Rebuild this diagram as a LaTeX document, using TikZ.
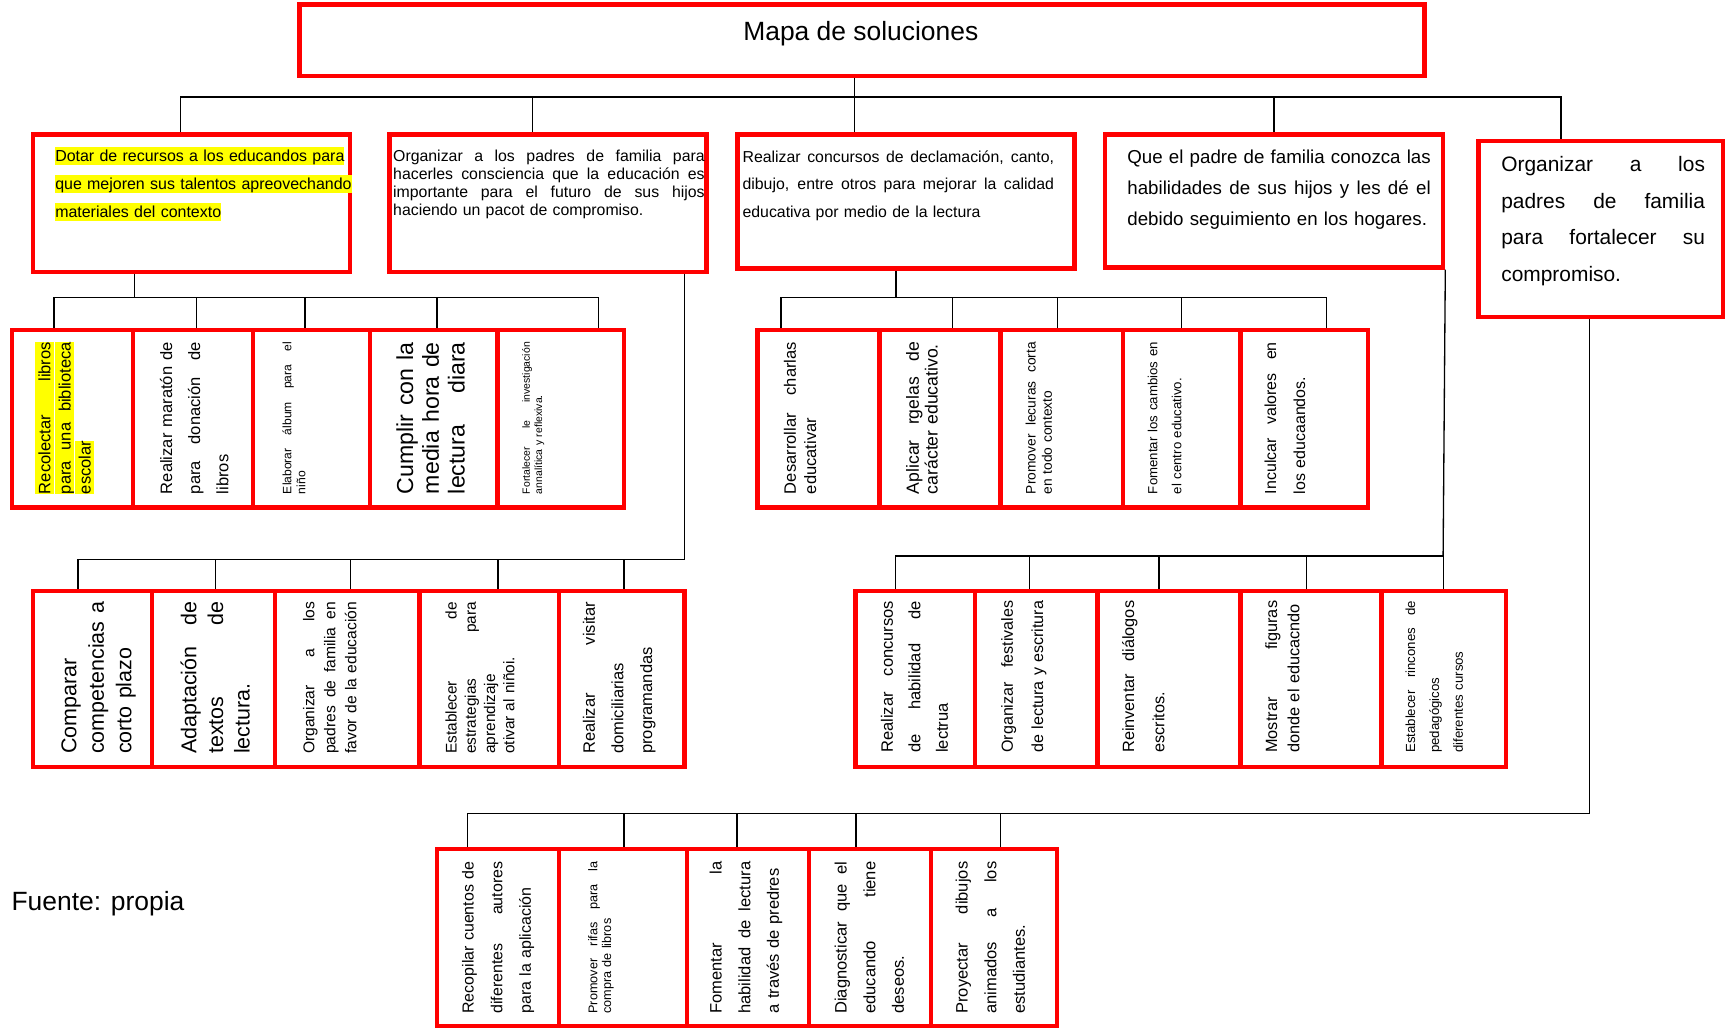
\documentclass[tikz,border=0pt]{standalone}
\usepackage{fontspec}
\setmainfont{Liberation Sans}
\usepackage{tikz}
\definecolor{boxred}{RGB}{255,0,0}
\definecolor{hlyellow}{RGB}{255,255,0}
\newcommand{\jline}[1]{\makebox[\linewidth][s]{\spaceskip=0pt\relax #1}}
\newcommand{\hlbox}[1]{{\setlength{\fboxsep}{0pt}\colorbox{hlyellow}{\rule[-0.22em]{0pt}{1.15em}#1}}}
\hyphenpenalty=10000

\begin{document}
\begin{tikzpicture}[x=1pt,y=-1pt,
	goal/.style={draw=boxred,line width=4pt,inner sep=0pt},
	link/.style={line width=1.2pt},
	htext/.style={anchor=base west,inner sep=0pt},
	vtext/.style={rotate=90,anchor=base west,inner sep=0pt,text width=138pt}]
	\useasboundingbox (0,0) rectangle (1568,935);

	\node[goal,minimum width=1022,minimum height=65] (title) at (783,36.5) {};
	\node[goal,minimum width=288,minimum height=125] (a1) at (174,184.5) {};
	\node[goal,minimum width=288,minimum height=125] (a2) at (498,184.5) {};
	\node[goal,minimum width=306,minimum height=122] (a3) at (823,183) {};
	\node[goal,minimum width=307,minimum height=121] (a4) at (1157.5,182.5) {};
	\node[goal,minimum width=222,minimum height=160] (a5) at (1454,208) {};

	\foreach \n/\x/\w in {c1/66/110,c2/175.5/109,c3/283/106,c4/394/116,c5/509.5/115,d1/743.5/111,d2/854/110,d3/964.5/111,d4/1073.5/107,d5/1185/116} \node[goal,minimum width=\w,minimum height=161] (\n) at (\x,380.5) {};
	\foreach \n/\x/\w in {e1/84/108,e2/194/112,e3/315.5/131,e4/444.5/127,e5/565/114,f1/831.5/109,f2/941.5/111,f3/1062/130,f4/1191/128,f5/1311.5/113} \node[goal,minimum width=\w,minimum height=160] (\n) at (\x,617) {};
	\foreach \n/\x/\w in {g1/452.5/111,g2/566/116,g3/679.5/111,g4/790.5/111,g5/903/114} \node[goal,minimum width=\w,minimum height=161] (\n) at (\x,851.5) {};

	\node[anchor=base,font=\fontsize{24}{29}\selectfont] (titletext) at (782,37) {Mapa de soluciones};
	\node[htext,text width=270pt,font=\fontsize{14.5}{25.3}\selectfont] (a1t) at (50,147) {\hlbox{Dotar de recursos a los educandos para}\\\hlbox{que mejoren sus talentos apreovechando}\\\hlbox{materiales del contexto}};
	\node[htext,text width=283pt,font=\fontsize{14.4}{16.2}\selectfont] (a2t) at (357,146.8) {\jline{Organizar a los padres de familia para}\\\jline{hacerles consciencia que la educación es}\\\jline{importante para el futuro de sus hijos}\\haciendo un pacot de compromiso.};
	\node[htext,text width=283pt,font=\fontsize{14.4}{24.8}\selectfont] (a3t) at (674.4,147.8) {\jline{Realizar concursos de declamación, canto,}\\\jline{dibujo, entre otros para mejorar la calidad}\\educativa por medio de la lectura};
	\node[htext,text width=275.6pt,font=\fontsize{17}{28}\selectfont] (a4t) at (1024,148.4) {\jline{Que el padre de familia conozca las}\\\jline{habilidades de sus hijos y les dé el}\\debido seguimiento en los hogares.};
	\node[htext,text width=185pt,font=\fontsize{19}{33.3}\selectfont] (a5t) at (1363.7,155.9) {\jline{Organizar a los}\\\jline{padres de familia}\\\jline{para fortalecer su}\\compromiso.};

	\node[vtext,font=\fontsize{15}{17}\selectfont] (c1t) at (45.8,449) {\hlbox{\jline{Recolectar libros}}\\\hlbox{\jline{para una biblioteca}}\\\hlbox{escolar}};
	\node[vtext,font=\fontsize{15}{25.5}\selectfont] (c2t) at (156.4,449) {\jline{Realizar maratón de}\\\jline{para donación de}\\libros};
	\node[vtext,font=\fontsize{11}{12.8}\selectfont] (c3t) at (264.6,449) {\jline{Elaborar álbum para el}\\niño};
	\node[vtext,font=\fontsize{21}{23.5}\selectfont] (c4t) at (375.2,449) {\jline{Cumplir con la}\\\jline{media hora de}\\\jline{lectura diara}};
	\node[vtext,font=\fontsize{9.5}{11}\selectfont] (c5t) at (481.4,449) {\jline{Fortalecer le investigación}\\annalítica y reflexiva.};

	\node[vtext,font=\fontsize{15}{18.5}\selectfont] (d1t) at (723,449) {\jline{Desarrollar charlas}\\educativar};
	\node[vtext,font=\fontsize{16}{17}\selectfont] (d2t) at (834.8,449) {\jline{Aplicar rgelas de}\\carácter educativo.};
	\node[vtext,font=\fontsize{12.5}{14.8}\selectfont] (d3t) at (940.8,449) {\jline{Promover lecuras corta}\\en todo contexto};
	\node[vtext,font=\fontsize{12}{22}\selectfont] (d4t) at (1051.3,449) {\jline{Fomentar los cambios en}\\el centro educativo.};
	\node[vtext,font=\fontsize{14.5}{26.5}\selectfont] (d5t) at (1159.2,449) {\jline{Inculcar valores en}\\los educaandos.};

	\node[vtext,font=\fontsize{19.5}{25}\selectfont] (e1t) at (69.3,685) {Comparar\\\jline{competencias a}\\corto plazo};
	\node[vtext,font=\fontsize{19.5}{24.2}\selectfont] (e2t) at (178.4,685) {\jline{Adaptación de}\\\jline{textos de}\\lectura.};
	\node[vtext,font=\fontsize{14.2}{19}\selectfont] (e3t) at (285.7,685) {\jline{Organizar a los}\\\jline{padres de familia en}\\\jline{favor de la educación}};
	\node[vtext,font=\fontsize{14}{17.5}\selectfont] (e4t) at (414.8,685) {\jline{Establecer de}\\\jline{estrategias para}\\aprendizaje\\otivar al niñoi.};
	\node[vtext,font=\fontsize{15}{26}\selectfont] (e5t) at (540.4,685) {\jline{Realizar visitar}\\domiciliarias\\programandas};

	\node[vtext,font=\fontsize{15}{25}\selectfont] (f1t) at (811.2,684) {\jline{Realizar concursos}\\\jline{de habilidad de}\\lectrua};
	\node[vtext,font=\fontsize{14.6}{27.5}\selectfont] (f2t) at (920.2,684) {\jline{Organizar festivales}\\de lectura y escritura};
	\node[vtext,font=\fontsize{14.8}{27.5}\selectfont] (f3t) at (1030.3,684) {\jline{Reinventar diálogos}\\escritos.};
	\node[vtext,font=\fontsize{14.8}{20}\selectfont] (f4t) at (1160.3,684) {\jline{Mostrar figuras}\\donde el educacndo};
	\node[vtext,font=\fontsize{12}{21.7}\selectfont] (f5t) at (1285.6,684) {\jline{Establecer rincones de}\\pedagógicos\\diferentes cursos};

	\node[vtext,font=\fontsize{14.5}{26}\selectfont] (g1t) at (430.3,921) {\jline{Recopilar cuentos de}\\\jline{diferentes autores}\\para la aplicación};
	\node[vtext,font=\fontsize{11.5}{12.5}\selectfont] (g2t) at (542.6,921) {\jline{Promover rifas para la}\\compra de libros};
	\node[vtext,font=\fontsize{15}{26}\selectfont] (g3t) at (655.6,921) {\jline{Fomentar la}\\\jline{habilidad de lectura}\\a través de predres};
	\node[vtext,font=\fontsize{15}{26}\selectfont] (g4t) at (769.2,921) {\jline{Diagnosticar que el}\\\jline{educando tiene}\\deseos.};
	\node[vtext,font=\fontsize{15}{26}\selectfont] (g5t) at (879.1,921) {\jline{Proyectar dibujos}\\\jline{animados a los}\\estudiantes.};

	\node[anchor=base west,font=\fontsize{24}{29}\selectfont] (source) at (7,827) {Fuente: propia};

	\coordinate (root) at (776,88);
	\coordinate (busa) at (122,270);
	\coordinate (busb) at (814,270);
	\coordinate (busc) at (622,508);
	\coordinate (busd) at (1311,505);
	\coordinate (buse) at (1444,739);

	\draw[link] ([xshift=-7]title.south) -- (root);
	\foreach \n/\d in {a1/-10,a2/-14,a3/-47,a4/0,a5/-36} \draw[link] ([xshift=\d]\n.north) |- (root);
	\draw[link] ([xshift=-52]a1.south) -- (busa);
	\foreach \n/\d in {c1/-17,c2/3,c3/-6,c4/3,c5/34} \draw[link] ([xshift=\d]\n.north) |- (busa);
	\draw[link] ([xshift=-9]a3.south) -- (busb);
	\foreach \n/\d in {d1/-34,d2/11,d3/-4,d4/0,d5/20} \draw[link] ([xshift=\d]\n.north) |- (busb);
	\draw[link] ([xshift=124]a2.south) -- (busc);
	\foreach \n/\d in {e1/-13,e2/2,e3/3,e4/8,e5/2} \draw[link] ([xshift=\d]\n.north) |- (busc);
	\draw[link] (a4.south east) -- (busd);
	\foreach \n/\d in {f1/-18,f2/-6,f3/-9,f4/-4,f5/0} \draw[link] ([xshift=\d]\n.north) |- (busd);
	\draw[link] ([xshift=-10]a5.south) -- (buse);
	\foreach \n/\d in {g1/-28,g2/1,g3/-10,g4/-13,g5/6} \draw[link] ([xshift=\d]\n.north) |- (buse);
\end{tikzpicture}
\end{document}
